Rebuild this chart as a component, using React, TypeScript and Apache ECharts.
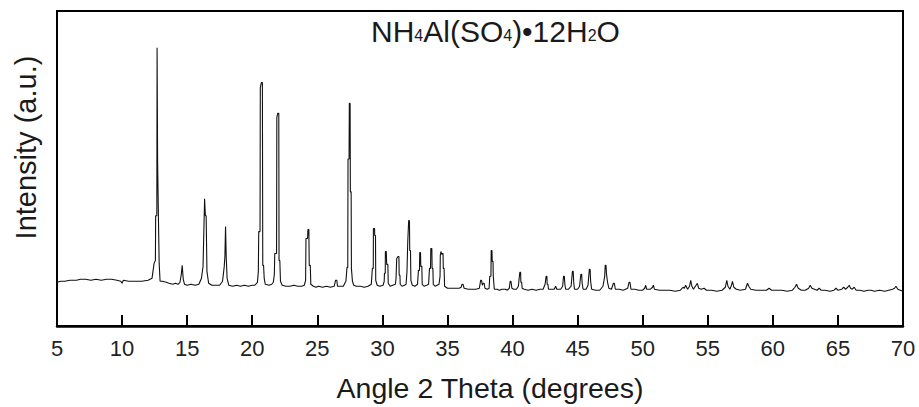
import React, { useEffect, useRef } from "react";
import * as echarts from "echarts";

// [2θ (degrees), intensity (a.u.)]
const segment5to20: [number, number][] = [
  [5.0, 44], [5.3, 45], [5.6, 45], [6.0, 46], [6.5, 46], [6.8, 47], [7.2, 47], [7.6, 46], [8.0, 47],
  [8.4, 46], [8.8, 47], [9.2, 47], [9.6, 46], [9.9, 45], [10.0, 43], [10.1, 46], [10.5, 45], [11.0, 45],
  [11.5, 45], [12.0, 46], [12.3, 48], [12.46, 63], [12.56, 66], [12.58, 111], [12.67, 111], [12.69, 280],
  [12.73, 166], [12.77, 166], [12.79, 111], [12.83, 111], [12.85, 63], [12.92, 45], [13.1, 45], [13.4, 44],
  [13.6, 43], [13.9, 42], [14.1, 43], [14.3, 42], [14.45, 44], [14.55, 52], [14.62, 61], [14.7, 47],
  [14.8, 42], [15.0, 41], [15.3, 42], [15.6, 41], [15.9, 42], [16.1, 48], [16.22, 60], [16.27, 88],
  [16.34, 128], [16.4, 111], [16.46, 111], [16.52, 55], [16.65, 43], [16.9, 41], [17.2, 41], [17.5, 41],
  [17.72, 45], [17.85, 60], [17.9, 70], [17.95, 100], [18.0, 70], [18.07, 48], [18.2, 41], [18.5, 40],
  [18.8, 41], [19.1, 40], [19.4, 41], [19.7, 40], [20.0, 41],
];

const segment20to35: [number, number][] = [
  [20.2, 41], [20.4, 44], [20.47, 55], [20.5, 95], [20.6, 95], [20.62, 240], [20.7, 245], [20.78, 245],
  [20.81, 61], [20.87, 61], [20.92, 48], [21.0, 42], [21.3, 41], [21.5, 42], [21.62, 44], [21.7, 52],
  [21.73, 73], [21.87, 73], [21.89, 210], [21.96, 214], [22.04, 214], [22.06, 66], [22.12, 66], [22.17, 45],
  [22.3, 41], [22.6, 40], [22.9, 40], [23.2, 41], [23.5, 40], [23.8, 40], [24.0, 41], [24.1, 46],
  [24.13, 88], [24.25, 88], [24.28, 97], [24.35, 97], [24.38, 61], [24.46, 61], [24.5, 42], [24.7, 40],
  [24.9, 39], [25.1, 40], [25.4, 39], [25.7, 40], [26.0, 39], [26.3, 40], [26.4, 46], [26.5, 46],
  [26.55, 40], [26.8, 40], [27.0, 40], [27.15, 44], [27.2, 45], [27.28, 59], [27.34, 59], [27.36, 168],
  [27.44, 168], [27.46, 224], [27.52, 224], [27.54, 135], [27.6, 135], [27.62, 58], [27.67, 58], [27.7, 45],
  [27.8, 41], [28.0, 40], [28.3, 40], [28.6, 39], [28.9, 40], [29.15, 42], [29.23, 58], [29.3, 58],
  [29.31, 98], [29.4, 98], [29.41, 91], [29.47, 91], [29.49, 46], [29.6, 41], [29.8, 40], [30.05, 41],
  [30.14, 45], [30.16, 53], [30.22, 53], [30.23, 75], [30.3, 75], [30.33, 62], [30.42, 62], [30.45, 43],
  [30.6, 40], [30.8, 41], [31.0, 42], [31.05, 48], [31.1, 68], [31.2, 70], [31.27, 70], [31.29, 51],
  [31.35, 51], [31.37, 42], [31.5, 40], [31.7, 41], [31.82, 42], [31.89, 55], [31.95, 85], [32.0, 85],
  [32.02, 106], [32.08, 106], [32.1, 76], [32.16, 76], [32.19, 46], [32.3, 41], [32.5, 40], [32.7, 42],
  [32.77, 56], [32.85, 56], [32.87, 74], [32.93, 74], [32.95, 60], [33.03, 60], [33.06, 42], [33.2, 40],
  [33.4, 41], [33.55, 42], [33.62, 58], [33.7, 58], [33.72, 78], [33.8, 78], [33.82, 58], [33.88, 58],
  [33.91, 42], [34.05, 40], [34.2, 41], [34.35, 42], [34.43, 50], [34.45, 71], [34.5, 75], [34.56, 72],
  [34.6, 73], [34.66, 73], [34.68, 58], [34.74, 58], [34.78, 40], [35.0, 38],
];

const segment35to50: [number, number][] = [
  [35.3, 38], [35.6, 38], [35.9, 38], [36.05, 39], [36.12, 42], [36.2, 42], [36.28, 38], [36.6, 37],
  [36.9, 37], [37.2, 37], [37.45, 38], [37.55, 46], [37.62, 46], [37.68, 41], [37.75, 43], [37.82, 43],
  [37.88, 38], [38.05, 37], [38.2, 38], [38.25, 50], [38.34, 50], [38.36, 76], [38.42, 76], [38.44, 65],
  [38.5, 65], [38.52, 50], [38.57, 50], [38.6, 37], [38.8, 37], [39.0, 36], [39.2, 37], [39.45, 37],
  [39.6, 36], [39.75, 38], [39.82, 45], [39.88, 45], [39.95, 38], [40.1, 37], [40.3, 37], [40.45, 40],
  [40.5, 47], [40.56, 54], [40.62, 54], [40.64, 44], [40.7, 44], [40.74, 38], [40.9, 37], [41.2, 36],
  [41.5, 37], [41.8, 36], [42.1, 37], [42.35, 37], [42.5, 42], [42.58, 50], [42.64, 50], [42.66, 42],
  [42.72, 42], [42.76, 37], [43.0, 37], [43.2, 37], [43.31, 40], [43.4, 37], [43.7, 37], [43.85, 40],
  [43.92, 50], [43.98, 50], [44.02, 42], [44.08, 37], [44.3, 37], [44.5, 40], [44.6, 55], [44.66, 55],
  [44.7, 44], [44.76, 37], [45.0, 37], [45.15, 40], [45.25, 52], [45.31, 52], [45.35, 43], [45.42, 37],
  [45.65, 37], [45.8, 41], [45.9, 57], [45.96, 57], [46.0, 45], [46.08, 37], [46.4, 36], [46.7, 36],
  [46.95, 40], [47.08, 50], [47.12, 61], [47.18, 61], [47.22, 52], [47.3, 44], [47.4, 38], [47.6, 37],
  [47.75, 43], [47.82, 43], [47.9, 37], [48.2, 37], [48.5, 36], [48.85, 38], [48.95, 44], [49.02, 44],
  [49.1, 37], [49.4, 37], [49.7, 36], [50.0, 36],
];

const segment50to70: [number, number][] = [
  [50.15, 38], [50.23, 41], [50.3, 37], [50.6, 37], [50.75, 39], [50.82, 41], [50.9, 37], [51.3, 36],
  [51.7, 36], [52.1, 36], [52.5, 35], [52.9, 36], [53.1, 39], [53.2, 38], [53.3, 41], [53.45, 37],
  [53.6, 40], [53.69, 46], [53.78, 40], [53.9, 37], [54.05, 40], [54.2, 43], [54.3, 38], [54.5, 37],
  [54.72, 38], [54.9, 36], [55.3, 36], [55.7, 35], [56.1, 36], [56.35, 39], [56.46, 46], [56.55, 40],
  [56.7, 37], [56.82, 41], [56.9, 45], [57.0, 39], [57.2, 37], [57.5, 36], [57.9, 37], [58.05, 43],
  [58.15, 40], [58.3, 37], [58.7, 36], [59.1, 36], [59.5, 36], [59.72, 38], [59.9, 36], [60.3, 36],
  [60.7, 36], [61.1, 35], [61.5, 36], [61.7, 39], [61.82, 42], [61.95, 38], [62.2, 36], [62.5, 36],
  [62.75, 38], [62.87, 41], [63.0, 38], [63.2, 37], [63.4, 36], [63.56, 38], [63.7, 36], [64.0, 36],
  [64.4, 35], [64.7, 36], [64.85, 38], [65.0, 36], [65.3, 37], [65.44, 39], [65.6, 37], [65.75, 39],
  [65.87, 41], [65.97, 38], [66.1, 37], [66.25, 39], [66.4, 36], [66.7, 36], [67.0, 35], [67.3, 36],
  [67.54, 36], [67.8, 35], [68.2, 36], [68.6, 35], [68.9, 36], [69.2, 37], [69.35, 38], [69.46, 40],
  [69.6, 37], [69.8, 36], [70.0, 35],
];

const xTicks = { min: 5, max: 70, interval: 5 };
const yRange = { min: 0, max: 317 };
const xName = "Angle 2 Theta (degrees)";
const yName = "Intensity (a.u.)";
const compoundTitle = "{m|NH}{s|4}{m|Al(SO}{s|4}{m|)•12H}{s|2}{m|O}";

const FONT = "'Liberation Sans', Arial, Helvetica, sans-serif";

export default function App() {
  const ref = useRef<HTMLDivElement>(null);
  useEffect(() => {
    if (!ref.current) return;
    const chart = echarts.init(ref.current, undefined, { renderer: "svg" });
    const data = [...segment5to20, ...segment20to35, ...segment35to50, ...segment50to70];
    chart.setOption({
      animation: false,
      backgroundColor: "#ffffff",
      title: {
        text: compoundTitle,
        left: 371,
        top: 14,
        padding: 0,
        textStyle: {
          fontWeight: "normal",
          rich: {
            m: { fontSize: 30, fontWeight: "normal", fontFamily: FONT, color: "#1a1a1a", lineHeight: 32, verticalAlign: "bottom" },
            s: { fontSize: 16, fontWeight: "normal", fontFamily: FONT, color: "#1a1a1a", lineHeight: 18, verticalAlign: "bottom", padding: [0, 0, 3, 0] },
          },
        },
      },
      grid: {
        left: 57,
        right: 16,
        top: 11,
        bottom: 79,
        show: true,
        borderColor: "#000",
        borderWidth: 2,
        backgroundColor: "transparent",
      },
      xAxis: {
        type: "value",
        min: xTicks.min,
        max: xTicks.max,
        interval: xTicks.interval,
        name: xName,
        nameLocation: "middle",
        nameGap: 47,
        nameTextStyle: { fontSize: 28.5, fontFamily: FONT, color: "#1a1a1a", padding: [0, 0, 0, 20] },
        axisLine: { show: true, lineStyle: { color: "#000", width: 2.5 } },
        axisTick: { show: true, inside: true, length: 11, lineStyle: { color: "#000", width: 2 } },
        axisLabel: { fontSize: 22, fontFamily: FONT, color: "#222", margin: 11 },
        splitLine: { show: false },
      },
      yAxis: {
        type: "value",
        min: yRange.min,
        max: yRange.max,
        name: yName,
        nameLocation: "middle",
        nameGap: 17,
        nameRotate: 90,
        nameTextStyle: { fontSize: 29, fontFamily: FONT, color: "#1a1a1a", padding: [0, 0, 0, 42] },
        axisLine: { show: true, lineStyle: { color: "#000", width: 2 } },
        axisTick: { show: false },
        axisLabel: { show: false },
        splitLine: { show: false },
      },
      series: [
        {
          type: "line",
          data,
          showSymbol: false,
          symbol: "none",
          lineStyle: { color: "#111", width: 1.1 },
          silent: true,
        },
      ],
    });
    return () => chart.dispose();
  }, []);
  return (
    <div
      ref={ref}
      style={{ position: "fixed", left: 0, top: 0, width: 919, height: 407, background: "#fff" }}
    />
  );
}
